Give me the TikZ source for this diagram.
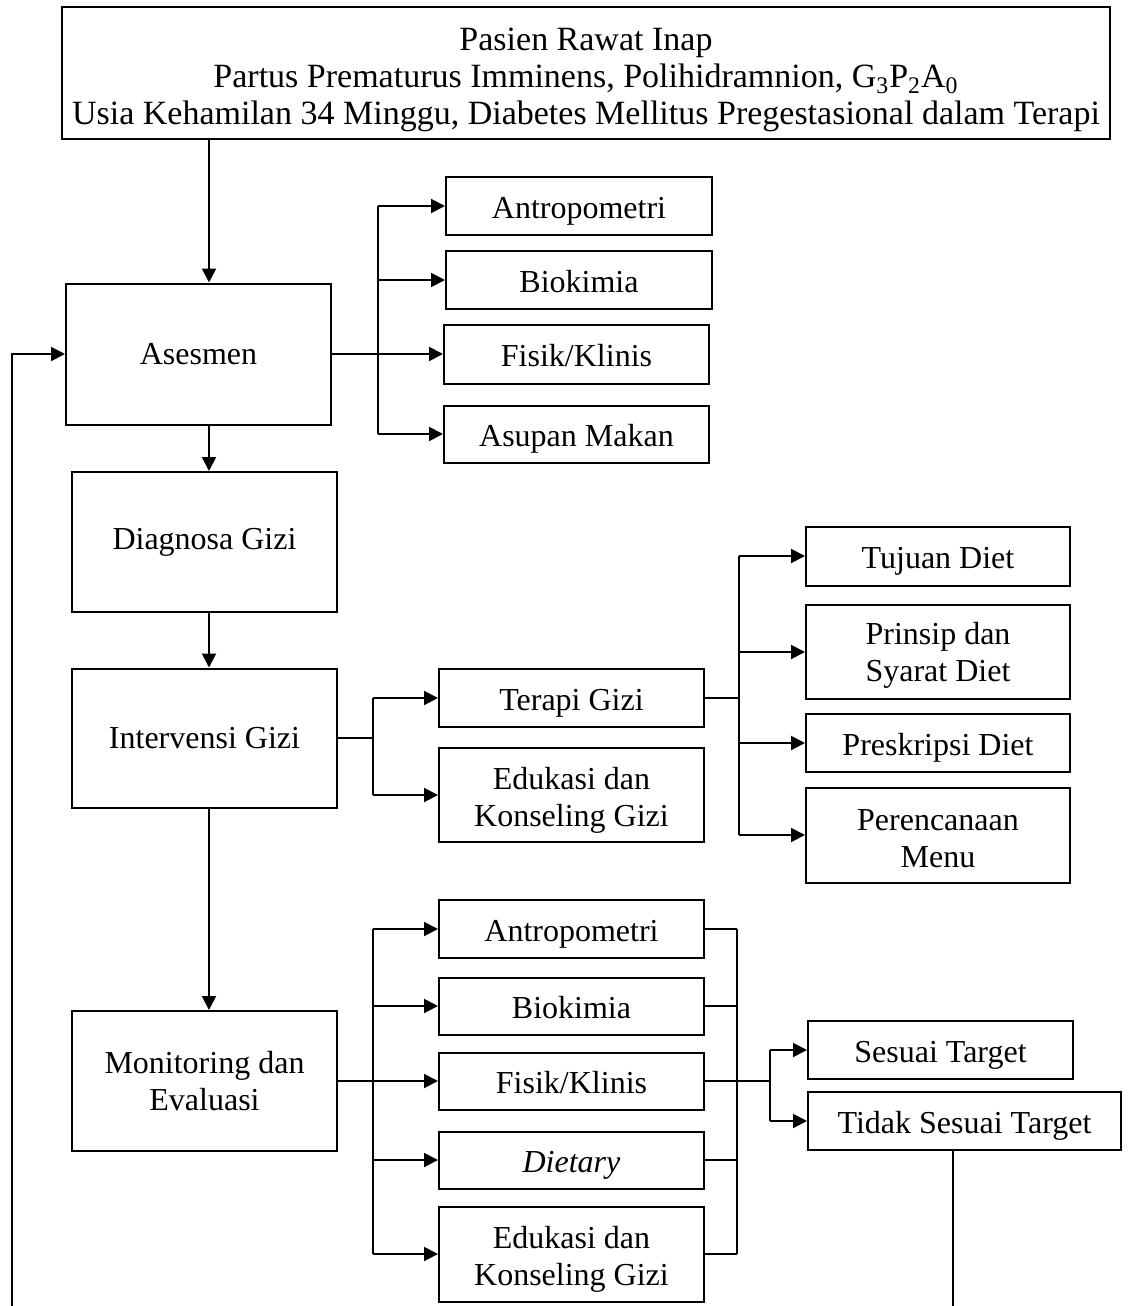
\documentclass[tikz,border=0pt]{standalone}
\usepackage{fontspec}
\setmainfont{Liberation Serif}
\usepackage{tikz}
\usetikzlibrary{calc, positioning, arrows.meta}
\newcommand{\lift}[1]{\rule{0pt}{#1}}
\tikzset{box/.style={draw=black, line width=1pt, align=center, inner sep=0pt, minimum width=#1, font=\fontsize{16}{18.5}\selectfont},
%default width of a box is 265px
box/.default={132.5pt},
slim/.style={text height=13pt, text depth=1pt},
link/.style={line width=1pt},
arr/.style={line width=1pt, -{Triangle[length=7pt,width=7pt]}}}

\begin{document}
\begin{tikzpicture}[x=0.5pt,y=-0.5pt]
 \useasboundingbox (0,0) rectangle (1128,1306);

 %Drawing Top Box
 \node[box=524pt, minimum height=66pt, font=\fontsize{17}{18.5}\selectfont] (pasien) at (586,73) {\lift{18.5pt}Pasien Rawat Inap\\Partus Prematurus Imminens, Polihidramnion, G\textsubscript{3}P\textsubscript{2}A\textsubscript{0}\\Usia Kehamilan 34 Minggu, Diabetes Mellitus Pregestasional dalam Terapi};

 %Drawing Main Column
 \node[box, minimum height=70.5pt] (asesmen) at (198.5,354) {Asesmen};
 \node[box, minimum height=70pt] (diagnosa) at (204.5,542) {Diagnosa Gizi};
 \node[box, minimum height=69.5pt] (intervensi) at (204.5,738) {Intervensi Gizi};
 \node[box, minimum height=70pt] (monev) at (204.5,1081) {Monitoring dan\\Evaluasi};

 \coordinate (spine) at (209,0);
 \draw[arr] (pasien.south -| spine) -- (asesmen.north -| spine);
 \draw[arr] (asesmen.south -| spine) -- (diagnosa.north -| spine);
 \draw[arr] (diagnosa.south -| spine) -- (intervensi.north -| spine);
 \draw[arr] (intervensi.south -| spine) -- (monev.north -| spine);

 %Drawing Feedback Line
 \coordinate (fbk) at (12,1306);
 \draw[arr] (fbk) |- (asesmen.west);

 %Drawing Asesmen Branch
 \node[box=133pt, slim, minimum height=29pt] (antro1) at (579,206) {Antropometri};
 \node[box=133pt, slim, minimum height=29pt] (biok1) at (579,280) {Biokimia};
 \node[box, slim, minimum height=29.5pt] (fisik1) at (576.5,354) {Fisik/Klinis};
 \node[box, slim, minimum height=28.5pt] (asupan1) at (576.5,434) {Asupan Makan};

 \coordinate (bus1) at (378,0);
 \draw[link] (asesmen.east) -- (asesmen.east -| bus1);
 \draw[link] (antro1.west -| bus1) -- (asupan1.west -| bus1);
 \foreach \n in {antro1,biok1,fisik1,asupan1}
  \draw[arr] (\n.west -| bus1) -- (\n.west);

 %Drawing Intervensi Branch
 \node[box, slim, minimum height=29pt] (terapi) at (571.5,698) {Terapi Gizi};
 \node[box, minimum height=47pt] (edukasi1) at (571.5,795) {\lift{16pt}Edukasi dan\\Konseling Gizi};

 \coordinate (bus2) at (373,0);
 \draw[link] (intervensi.east) -- (intervensi.east -| bus2);
 \draw[link] (terapi.west -| bus2) -- (edukasi1.west -| bus2);
 \foreach \n in {terapi,edukasi1}
  \draw[arr] (\n.west -| bus2) -- (\n.west);

 %Drawing Terapi Gizi Branch
 \node[box=132pt, slim, minimum height=29.5pt] (tujuan) at (938,556) {Tujuan Diet};
 \node[box=132pt, minimum height=47pt] (prinsip) at (938,652) {\lift{14pt}Prinsip dan\\Syarat Diet};
 \node[box=132pt, slim, minimum height=29pt] (preskripsi) at (938,743) {Preskripsi Diet};
 \node[box=132pt, minimum height=47.5pt] (menu) at (938,835) {\lift{14pt}Perencanaan\\Menu};

 \coordinate (bus3) at (739,0);
 \draw[link] (terapi.east) -- (terapi.east -| bus3);
 \draw[link] (tujuan.west -| bus3) -- (menu.west -| bus3);
 \foreach \n in {tujuan,prinsip,preskripsi,menu}
  \draw[arr] (\n.west -| bus3) -- (\n.west);

 %Drawing Monitoring Branch
 \node[box, slim, minimum height=29pt] (antro2) at (571.5,929) {Antropometri};
 \node[box, slim, minimum height=28.5pt] (biok2) at (571.5,1006) {Biokimia};
 \node[box, slim, minimum height=28.5pt] (fisik2) at (571.5,1081) {Fisik/Klinis};
 \node[box, slim, minimum height=28.5pt] (dietary) at (571.5,1160) {\textit{Dietary}};
 \node[box, minimum height=47.5pt] (edukasi2) at (571.5,1254) {\lift{16pt}Edukasi dan\\Konseling Gizi};

 \coordinate (bus4) at (373,0);
 \draw[link] (monev.east) -- (monev.east -| bus4);
 \draw[link] (antro2.west -| bus4) -- (edukasi2.west -| bus4);
 \foreach \n in {antro2,biok2,fisik2,dietary,edukasi2}
  \draw[arr] (\n.west -| bus4) -- (\n.west);

 \coordinate (bus5) at (737,0);
 \draw[link] (antro2.east -| bus5) -- (edukasi2.east -| bus5);
 \foreach \n in {antro2,biok2,fisik2,dietary,edukasi2}
  \draw[link] (\n.east) -- (\n.east -| bus5);

 %Drawing Target Boxes
 \node[box=132.5pt, slim, minimum height=29pt] (sesuai) at (940.5,1050) {Sesuai Target};
 \node[box=156.5pt, slim, minimum height=29pt] (tidak) at (964.5,1121) {Tidak Sesuai Target};

 \coordinate (bus6) at (770,0);
 \draw[link] (fisik2.east) -- (fisik2.east -| bus6);
 \draw[link] (sesuai.west -| bus6) -- (tidak.west -| bus6);
 \foreach \n in {sesuai,tidak}
  \draw[arr] (\n.west -| bus6) -- (\n.west);

 \coordinate (tend) at (953,1306);
 \draw[link] (tidak.south -| tend) -- (tend);

\end{tikzpicture}
\end{document}
